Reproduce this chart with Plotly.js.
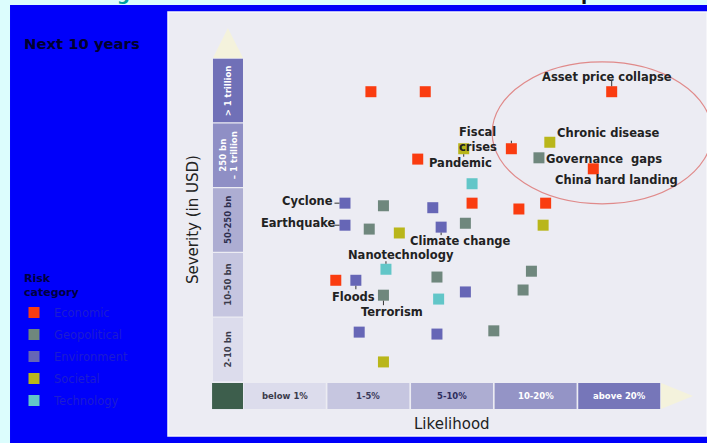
<!DOCTYPE html>
<html>
<head>
<meta charset="utf-8">
<script src="https://cdn.plot.ly/plotly-3.0.1.min.js"></script>
<style>
html,body{margin:0;padding:0;background:#dcfdfd;overflow:hidden;}
#chart{width:707px;height:443px;}
</style>
</head>
<body>
<div id="chart"></div>
<script>
// ---------- DATA ----------
const categories = ['Economic', 'Geopolitical', 'Environment', 'Societal', 'Technology'];
const likelihoodBands = ['below 1%', '1-5%', '5-10%', '10-20%', 'above 20%'];
const severityBands = ['2-10 bn', '10-50 bn', '50-250 bn', '250 bn<br>– 1 trillion', '> 1 trillion'];

// positions in band units (0..5 on each axis)
const economicLikelihood     = [1.53, 2.18, 4.41, 3.21, 2.09, 4.19, 2.74, 3.30, 3.62, 1.11];
const economicSeverity       = [4.48, 4.48, 4.48, 3.60, 3.44, 3.29, 2.76, 2.67, 2.76, 1.57];
const geopoliticalLikelihood = [3.54, 1.68, 1.51, 2.66, 2.32, 3.45, 3.35, 1.68, 3.00];
const geopoliticalSeverity   = [3.46, 2.72, 2.36, 2.45, 1.62, 1.71, 1.42, 1.34, 0.79];
const environmentLikelihood  = [1.22, 2.27, 1.22, 2.37, 1.35, 2.66, 1.39, 2.32];
const environmentSeverity    = [2.76, 2.69, 2.42, 2.39, 1.57, 1.39, 0.77, 0.74];
const societalLikelihood     = [2.64, 3.67, 1.87, 3.59, 1.68];
const societalSeverity       = [3.60, 3.70, 2.30, 2.42, 0.31];
const technologyLikelihood   = [2.74, 1.71, 2.34];
const technologySeverity     = [3.06, 1.74, 1.28];

// labelled risks: name, category, index in that category's arrays
const labelNames    = ['Asset price collapse', 'Fiscal<br>crises', 'Pandemic', 'Chronic disease', 'Governance  gaps',
                       'China hard landing', 'Cyclone', 'Earthquake', 'Climate change', 'Nanotechnology', 'Floods', 'Terrorism'];
const labelCategory = ['Economic', 'Economic', 'Societal', 'Societal', 'Geopolitical',
                       'Economic', 'Environment', 'Environment', 'Environment', 'Technology', 'Environment', 'Geopolitical'];
const labelIndex    = [2, 3, 0, 1, 0, 5, 0, 2, 3, 1, 4, 7];

// ---------- STYLE / PLACEMENT ----------
const seriesData = {
  Economic:     {x: economicLikelihood,     y: economicSeverity,     color: '#fa3c10'},
  Geopolitical: {x: geopoliticalLikelihood, y: geopoliticalSeverity, color: '#6f877d'},
  Environment:  {x: environmentLikelihood,  y: environmentSeverity,  color: '#6666b6'},
  Societal:     {x: societalLikelihood,     y: societalSeverity,     color: '#b9b61a'},
  Technology:   {x: technologyLikelihood,   y: technologySeverity,   color: '#62c6c8'}
};
// text offsets (px) and connector tick offsets (px) per label
const labelPlace = [
  {dx: -5,  dy: 15,  tx: 0,   ty: -13, align: 'center'},
  {dx: -33, dy: 9,   tx: 0,   ty: -10, align: 'left'},
  {dx: -3,  dy: -14, tx: 0,   ty: 10,  align: 'center'},
  {dx: 59,  dy: 9,   tx: null},
  {dx: 65,  dy: -1,  tx: null},
  {dx: 23,  dy: -11, tx: null},
  {dx: -37, dy: 2,   tx: -12, ty: 0},
  {dx: -47, dy: 2,   tx: -12, ty: 0},
  {dx: 19,  dy: -14, tx: 0,   ty: 10},
  {dx: 15,  dy: 14,  tx: 0,   ty: -10},
  {dx: -2,  dy: -17, tx: 0,   ty: 11},
  {dx: 9,   dy: -17, tx: 0,   ty: 12}
];
const xBandColors = ['#dcdcec', '#c6c6e0', '#adadd2', '#9494c6', '#7676b9'];
const xBandText   = ['#3a3a4a', '#3a3a5a', '#2e2e5e', '#ffffff', '#ffffff'];
const yBandColors = ['#dcdcec', '#c6c6e0', '#adadd2', '#8f8fc5', '#7070b7'];
const yBandText   = ['#3a3a4a', '#3a3a4a', '#2e2e4e', '#ffffff', '#ffffff'];
const FONT = 'DejaVu Sans, Verdana, sans-serif';

const traces = categories.map(function (c) {
  const s = seriesData[c];
  return {
    type: 'scatter', mode: 'markers', name: c, legendgroup: c,
    x: s.x, y: s.y,
    marker: {symbol: 'square', size: 11, color: s.color, line: {width: 0}},
    hoverinfo: 'name'
  };
});

const shapes = [];
const annotations = [];

// background blocks (paper)
shapes.push({type: 'rect', xref: 'paper', yref: 'paper', x0: -0.2931, x1: 1.05, y0: -0.1, y1: 1.0165,
  fillcolor: '#0000fa', line: {width: 0}, layer: 'below'});
shapes.push({type: 'rect', xref: 'paper', yref: 'paper', x0: 0, x1: 1.0, y0: 0, y1: 1,
  fillcolor: '#ececf3', line: {width: 1.5, color: '#f8f8fc'}, layer: 'below'});

// likelihood bands
likelihoodBands.forEach(function (t, i) {
  shapes.push({type: 'rect', xref: 'x', yref: 'y', x0: i + 0.01, x1: i + 0.99, y0: -0.417, y1: -0.015,
    fillcolor: xBandColors[i], line: {width: 0}, layer: 'below'});
  annotations.push({xref: 'x', yref: 'y', x: i + 0.5, y: -0.216, text: '<b>' + t + '</b>', showarrow: false,
    font: {family: FONT, size: 8.5, color: xBandText[i]}});
});
// severity bands
severityBands.forEach(function (t, j) {
  shapes.push({type: 'rect', xref: 'x', yref: 'y', x0: -0.359, x1: 0, y0: j + 0.01, y1: j + 0.99,
    fillcolor: yBandColors[j], line: {width: 0}, layer: 'below'});
  annotations.push({xref: 'x', yref: 'y', x: -0.18, y: j + 0.5, text: '<b>' + t + '</b>', showarrow: false,
    textangle: -90, font: {family: FONT, size: 8.5, color: yBandText[j]}});
});
// corner square
shapes.push({type: 'rect', xref: 'x', yref: 'y', x0: -0.37, x1: 0, y0: -0.417, y1: -0.015,
  fillcolor: '#3d5e4c', line: {width: 0}, layer: 'below'});
// arrows
shapes.push({type: 'path', xref: 'x', yref: 'y', path: 'M 5,-0.015 L 5.383,-0.216 L 5,-0.417 Z',
  fillcolor: '#f4f2dc', line: {width: 0}, layer: 'below'});
shapes.push({type: 'path', xref: 'x', yref: 'y', path: 'M -0.359,5 L -0.18,5.463 L 0,5 Z',
  fillcolor: '#f4f2dc', line: {width: 0}, layer: 'below'});
// ellipse highlighting the top-right cluster
shapes.push({type: 'circle', xref: 'x', yref: 'y', x0: 2.98, x1: 5.61, y0: 2.75, y1: 4.94,
  line: {color: '#e08a8a', width: 1.2}, layer: 'below'});

// axis titles
annotations.push({xref: 'x', yref: 'y', x: 2.5, y: -0.648, text: 'Likelihood', showarrow: false,
  font: {family: FONT, size: 15, color: '#222'}});
annotations.push({xref: 'x', yref: 'y', x: -0.598, y: 2.5, text: 'Severity (in USD)', showarrow: false,
  textangle: -90, font: {family: FONT, size: 15, color: '#222'}});

// left panel heading
annotations.push({xref: 'paper', yref: 'paper', x: (22 - 168) / 539, y: (436 - 33) / 424, xanchor: 'left',
  text: '<b>Next 10 years</b>', showarrow: false, font: {family: FONT, size: 14.8, color: '#000030'}});

// legend heading
annotations.push({xref: 'paper', yref: 'paper', x: (22 - 168) / 539, y: (436 - 285) / 424, xanchor: 'left',
  align: 'left', text: '<b>Risk<br>category</b>', showarrow: false,
  font: {family: FONT, size: 11, color: '#000040'}});

// clipped title fragments at the very top
annotations.push({xref: 'paper', yref: 'paper', x: (115 - 168) / 539, y: (436 + 6) / 424, yanchor: 'middle',
  text: '<b>g</b>', showarrow: false, font: {family: FONT, size: 18, color: '#00a0a0'}});
annotations.push({xref: 'paper', yref: 'paper', x: (596 - 168) / 539, y: (436 + 6) / 424, yanchor: 'middle',
  text: '<b>p</b>', showarrow: false, font: {family: FONT, size: 18, color: '#111111'}});

// risk labels and connector ticks
labelNames.forEach(function (name, k) {
  const s = seriesData[labelCategory[k]];
  const px = s.x[labelIndex[k]], py = s.y[labelIndex[k]];
  const p = labelPlace[k];
  annotations.push({xref: 'x', yref: 'y', x: px, y: py, text: '<b>' + name + '</b>', showarrow: false,
    xshift: p.dx, yshift: p.dy, align: p.align || 'center',
    font: {family: FONT, size: 11.5, color: '#222222'}});
  if (p.tx !== null) {
    annotations.push({xref: 'x', yref: 'y', x: px, y: py, text: ' ', showarrow: true,
      ax: p.tx, ay: p.ty, arrowhead: 0, arrowwidth: 1, arrowcolor: '#333333', standoff: 5.5,
      font: {size: 1}});
  }
});

const layout = {
  width: 707, height: 443,
  margin: {l: 168, r: 0, t: 12, b: 7, pad: 0},
  paper_bgcolor: '#dcfdfd',
  plot_bgcolor: 'rgba(0,0,0,0)',
  xaxis: {range: [-0.897, 5.55], visible: false, fixedrange: true},
  yaxis: {range: [-0.833, 5.71], visible: false, fixedrange: true},
  showlegend: true,
  legend: {
    x: (14 - 168) / 539, xanchor: 'left', y: (436 - 298) / 424, yanchor: 'top',
    bgcolor: 'rgba(0,0,0,0)', borderwidth: 0, tracegroupgap: 3,
    font: {family: FONT, size: 11.5, color: '#1c1cd2'}
  },
  shapes: shapes,
  annotations: annotations
};

Plotly.newPlot('chart', traces, layout, {displayModeBar: false, staticPlot: true});
</script>
</body>
</html>
